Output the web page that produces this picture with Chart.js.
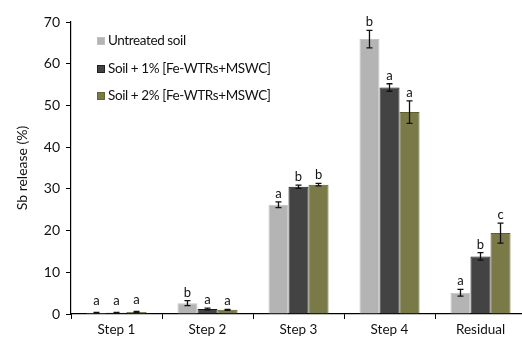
<!DOCTYPE html>
<html>
<head>
<meta charset="utf-8">
<script src="https://cdn.jsdelivr.net/npm/chart.js@4/dist/chart.umd.min.js"></script>
<style>
  html, body { margin: 0; padding: 0; background: #fff; overflow: hidden; }
  #wrap { width: 528px; height: 345px; }
</style>
</head>
<body>
<div id="wrap"><canvas id="c" width="528" height="345"></canvas></div>
<script>
// Sequential extraction of Sb (% of total) per fraction
const categories = ['Step 1', 'Step 2', 'Step 3', 'Step 4', 'Residual'];
const seriesNames = ['Untreated soil', 'Soil + 1% [Fe-WTRs+MSWC]', 'Soil + 2% [Fe-WTRs+MSWC]'];

const untreated    = [0.3, 2.6, 26.2, 65.9, 5.1];
const untreatedErr = [0.1, 0.6, 0.7, 2.1, 0.8];
const soil1        = [0.3, 1.2, 30.5, 54.3, 13.8];
const soil1Err     = [0.1, 0.2, 0.4, 0.9, 0.9];
const soil2        = [0.5, 1.0, 31.0, 48.4, 19.4];
const soil2Err     = [0.1, 0.1, 0.3, 2.7, 2.4];

// Significance letters per series
const untreatedSig = ['a', 'b', 'a', 'b', 'a'];
const soil1Sig     = ['a', 'a', 'b', 'a', 'b'];
const soil2Sig     = ['a', 'a', 'b', 'a', 'c'];

const yTicks = [0, 10, 20, 30, 40, 50, 60, 70];

const FONT = 'Lato, "Open Sans", sans-serif';
const fills   = ['#b4b4b4', '#434343', '#7a7a48'];
const borders = ['#c4c4c4', '#1a1a1a', '#5e5e30'];

const errs = [untreatedErr, soil1Err, soil2Err];
const sigs = [untreatedSig, soil1Sig, soil2Sig];

// Error bars with caps, and the letter above each one
const errorBars = {
  id: 'errorBars',
  afterDatasetsDraw(chart) {
    const ctx = chart.ctx;
    const y = chart.scales.y;
    ctx.save();
    chart.data.datasets.forEach((ds, di) => {
      const meta = chart.getDatasetMeta(di);
      meta.data.forEach((bar, i) => {
        const v = ds.data[i];
        const e = errs[di][i];
        const yt = y.getPixelForValue(v + e);
        const yb = y.getPixelForValue(Math.max(0, v - e));
        const x = bar.x;
        ctx.strokeStyle = '#111';
        ctx.lineWidth = 1.3;
        ctx.beginPath();
        ctx.moveTo(x, yt); ctx.lineTo(x, yb);
        ctx.moveTo(x - 3, yt); ctx.lineTo(x + 3, yt);
        ctx.moveTo(x - 3, yb); ctx.lineTo(x + 3, yb);
        ctx.stroke();
        ctx.fillStyle = '#111';
        ctx.font = '13px ' + FONT;
        ctx.textAlign = 'center';
        ctx.textBaseline = 'alphabetic';
        ctx.fillText(sigs[di][i], x, yt - (i === 0 ? 7 : 4));
      });
    });
    ctx.restore();
  }
};

// Legend drawn inside the plot, stacked at top-left
const insideLegend = {
  id: 'insideLegend',
  afterDraw(chart) {
    const ctx = chart.ctx;
    ctx.save();
    ctx.font = '13.5px ' + FONT;
    ctx.letterSpacing = '-0.4px';
    ctx.textBaseline = 'middle';
    ctx.textAlign = 'left';
    const x0 = 97, ys = [41, 69, 96];
    seriesNames.forEach((name, i) => {
      ctx.fillStyle = fills[i];
      ctx.fillRect(x0, ys[i] - 4, 8, 8);
      ctx.strokeStyle = borders[i];
      ctx.lineWidth = 0.8;
      ctx.strokeRect(x0 + 0.5, ys[i] - 3.5, 7, 7);
      ctx.fillStyle = '#111';
      ctx.fillText(name, x0 + 11, ys[i]);
    });
    ctx.restore();
  }
};

new Chart(document.getElementById('c'), {
  type: 'bar',
  data: {
    labels: categories,
    datasets: [untreated, soil1, soil2].map((d, i) => ({
      label: seriesNames[i],
      data: d,
      backgroundColor: fills[i],
      borderColor: borders[i],
      borderWidth: 1,
      categoryPercentage: 0.66,
      barPercentage: 1.0
    }))
  },
  options: {
    responsive: false,
    animation: false,
    layout: { padding: { left: 0, right: 2, top: 22, bottom: 0 } },
    plugins: { legend: { display: false }, tooltip: { enabled: false } },
    scales: {
      x: {
        grid: { offset: true, drawOnChartArea: false, drawTicks: true, tickLength: 5, color: '#000' },
        border: { display: true, color: '#000', width: 1.2 },
        ticks: { color: '#111', font: { family: FONT, size: 13.5 }, padding: 3 },
        afterFit(s) { s.height = 31; }
      },
      y: {
        min: 0, max: 70,
        afterBuildTicks(s) { s.ticks = yTicks.map(v => ({ value: v })); },
        grid: { drawOnChartArea: false, drawTicks: true, tickLength: 5, color: '#000' },
        border: { display: true, color: '#000', width: 1.2 },
        ticks: { color: '#111', font: { family: FONT, size: 14 }, padding: 6 },
        title: { display: true, text: 'Sb release (%)', color: '#111', font: { family: FONT, size: 14 }, padding: { top: 14, bottom: 6 } },
        afterFit(s) { s.width = 71; }
      }
    }
  },
  plugins: [errorBars, insideLegend]
});
</script>
</body>
</html>
